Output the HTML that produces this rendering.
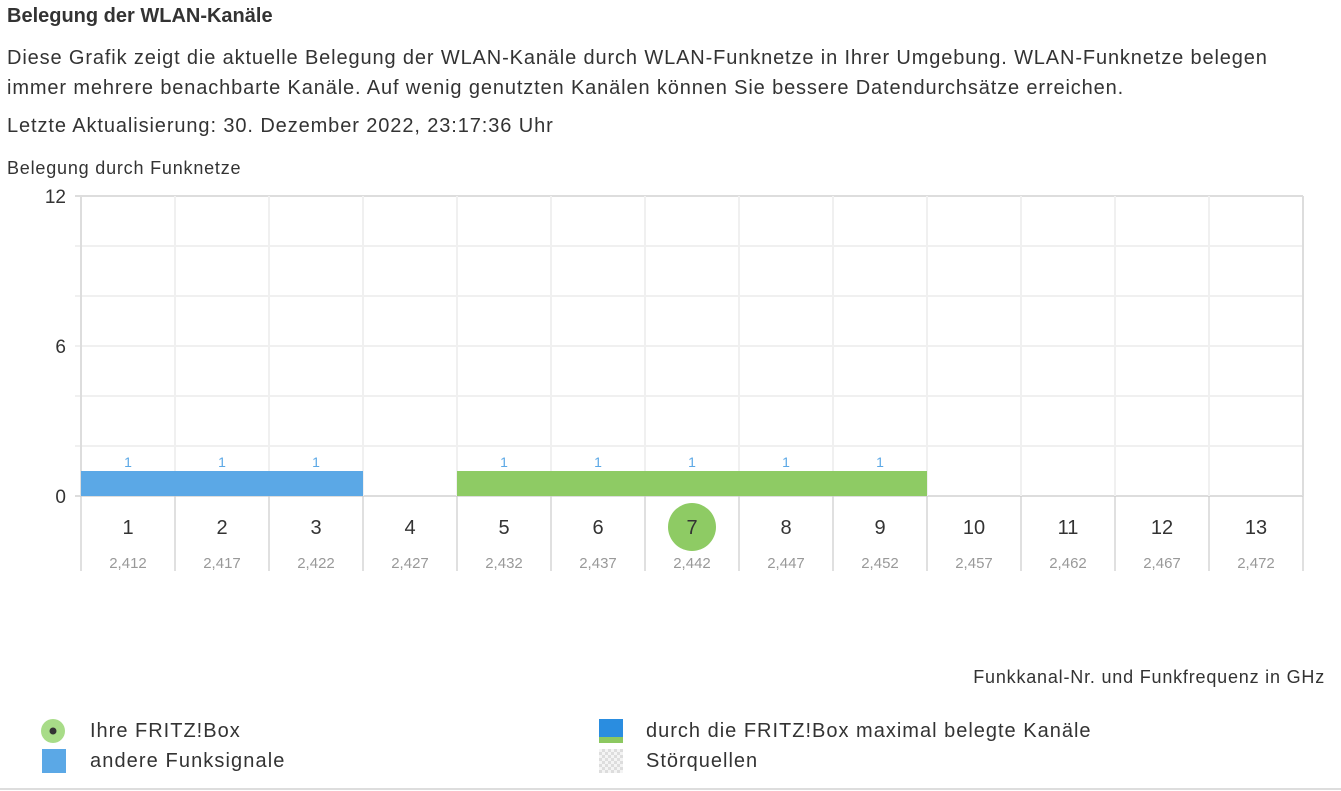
<!DOCTYPE html>
<html><head><meta charset="utf-8"><style>
body{margin:0;width:1341px;height:791px;background:#fff;font-family:"Liberation Sans",sans-serif;color:#333;overflow:hidden;position:relative}
.t{position:absolute;white-space:nowrap}
</style></head><body>
<div class="t" style="left:7px;top:5px;font-size:20px;font-weight:bold;color:#333">Belegung der WLAN-Kanäle</div>
<div class="t" style="left:7px;top:43px;font-size:20px;letter-spacing:0.87px;line-height:30px;color:#333">Diese Grafik zeigt die aktuelle Belegung der WLAN-Kanäle durch WLAN-Funknetze in Ihrer Umgebung. WLAN-Funknetze belegen<br>immer mehrere benachbarte Kanäle. Auf wenig genutzten Kanälen können Sie bessere Datendurchsätze erreichen.</div>
<div class="t" style="left:7px;top:115px;font-size:20px;letter-spacing:0.9px">Letzte Aktualisierung: 30. Dezember 2022, 23:17:36 Uhr</div>
<div class="t" style="left:7px;top:158px;font-size:18px;letter-spacing:0.8px">Belegung durch Funknetze</div>
<svg id="chart" width="1341" height="600" style="position:absolute;left:0;top:0" font-family="Liberation Sans, sans-serif"></svg>
<div class="t" style="right:16px;top:667px;font-size:18px;letter-spacing:0.8px">Funkkanal-Nr. und Funkfrequenz in GHz</div>
<div>
<svg style="position:absolute;left:40px;top:718px" width="26" height="26"><circle cx="13" cy="13" r="12" fill="#a8dc88"/><circle cx="13" cy="13" r="3.5" fill="#333"/></svg>
<div class="t" style="left:90px;top:720px;font-size:20px;letter-spacing:1px">Ihre FRITZ!Box</div>
<div style="position:absolute;left:42px;top:749px;width:24px;height:24px;background:#5ba8e6"></div>
<div class="t" style="left:90px;top:750px;font-size:20px;letter-spacing:1.1px">andere Funksignale</div>
<div style="position:absolute;left:599px;top:719px;width:24px;height:24px;background:linear-gradient(#2a8de0 0 75%,#8cc860 75%)"></div>
<div class="t" style="left:646px;top:720px;font-size:20px;letter-spacing:1px">durch die FRITZ!Box maximal belegte Kanäle</div>
<div style="position:absolute;left:599px;top:749px;width:24px;height:24px;background:repeating-conic-gradient(#ddd 0 25%,#f4f4f4 0 50%) 0 0/6px 6px"></div>
<div class="t" style="left:646px;top:750px;font-size:20px;letter-spacing:1px">Störquellen</div>
</div>
<div style="position:absolute;left:0;top:788px;width:1341px;height:2px;background:#ddd"></div>
<script>
const channels=[1,2,3,4,5,6,7,8,9,10,11,12,13];
const freqs=["2,412","2,417","2,422","2,427","2,432","2,437","2,442","2,447","2,452","2,457","2,462","2,467","2,472"];
const otherValues=[1,1,1,0,0,0,0,0,0,0,0,0,0];
const fritzValues=[0,0,0,0,1,1,1,1,1,0,0,0,0];
const yTicks=[0,6,12];
const fritzChannel=7;
const L=81,R=1303,T=196,B=496,yMax=12;
const cw=(R-L)/channels.length;
const x=i=>L+i*cw;
const y=v=>B-(v/yMax)*(B-T);
const svg=document.getElementById('chart');
const NS='http://www.w3.org/2000/svg';
function mk(t,a){const e=document.createElementNS(NS,t);for(const k in a)e.setAttribute(k,a[k]);svg.appendChild(e);return e;}
for(let v=0;v<=yMax;v+=2){const g=mk('line',{x1:L-6,x2:R,y1:y(v),y2:y(v),stroke:v===0||v===yMax?'#ddd':'#f0f0f0','stroke-width':2});

}
for(let i=0;i<=channels.length;i++){const g=mk('line',{x1:x(i),x2:x(i),y1:T,y2:B,stroke:i===0||i===channels.length?'#ddd':'#f0f0f0','stroke-width':2});


const d=mk('line',{x1:x(i),x2:x(i),y1:B,y2:571,stroke:'#ccc','stroke-width':1.2});

}
yTicks.forEach(v=>{const t=mk('text',{x:66,y:y(v)+7,'text-anchor':'end','font-size':19,fill:'#333'});t.textContent=v;

});
function bars(vals,color,name){vals.forEach((v,i)=>{if(!v)return;
const r=mk('rect',{x:x(i),y:y(v),width:cw,height:B-y(v),fill:color});


const t=mk('text',{x:x(i)+cw/2,y:y(v)-4,'text-anchor':'middle','font-size':14,fill:'#5ba8e6'});t.textContent=v;

});}
bars(otherValues,'#5ba8e6','other-signal-bar');
bars(fritzValues,'#8ecb64','fritzbox-bar');
channels.forEach((c,i)=>{const cx=x(i)+cw/2;
if(c===fritzChannel){const ci=mk('circle',{cx:cx,cy:527,r:24,fill:'#8ecb64'});

}
const t=mk('text',{x:cx,y:534,'text-anchor':'middle','font-size':20,fill:'#333'});t.textContent=c;


const f=mk('text',{x:cx,y:568,'text-anchor':'middle','font-size':15,fill:'#999'});f.textContent=freqs[i];

});
</script>
</body></html>
